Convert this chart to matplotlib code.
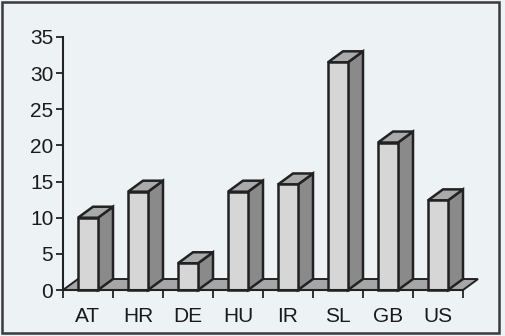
import matplotlib.pyplot as plt
from matplotlib.patches import Polygon, Rectangle

# Share per country
countries = ['AT', 'HR', 'DE', 'HU', 'IR', 'SL', 'GB', 'US']
values = [10, 13.6, 3.7, 13.6, 14.6, 31.5, 20.4, 12.4]
y_ticks = [0, 5, 10, 15, 20, 25, 30, 35]

# pseudo-3D depth offset (x in categories, y in value units)
DX, DY = 0.3, 1.52
FRONT, SIDE, TOP, FLOOR = '#d6d6d6', '#8a8a8a', '#aaaaaa', '#a6a6a6'
EDGE = '#222222'
LW = 1.8

plt.rcParams['font.family'] = ['Liberation Sans', 'DejaVu Sans']

fig = plt.figure(figsize=(5.05, 3.36), dpi=100, facecolor='#edf2f5')
ax = fig.add_axes([63 / 505, 46 / 336, 400 / 505, 253 / 336])
ax.patch.set_visible(False)
ax.set_xlim(0, len(countries))
ax.set_ylim(0, 35)

# floor
n = len(countries)
ax.add_patch(Polygon([(0, 0), (n, 0), (n + DX, DY), (DX, DY)], closed=True,
                     fc=FLOOR, ec=EDGE, lw=1.4, clip_on=False, zorder=1))

for i, v in enumerate(values):
    x0, x1 = i + 0.3, i + 0.7
    ax.add_patch(Polygon([(x1, 0), (x1 + DX, DY), (x1 + DX, v + DY), (x1, v)],
                         closed=True, fc=SIDE, ec=EDGE, lw=LW, clip_on=False, zorder=2))
    ax.add_patch(Polygon([(x0, v), (x1, v), (x1 + DX, v + DY), (x0 + DX, v + DY)],
                         closed=True, fc=TOP, ec=EDGE, lw=LW, clip_on=False, zorder=2))
    ax.add_patch(Rectangle((x0, 0), x1 - x0, v, fc=FRONT, ec=EDGE, lw=LW,
                           clip_on=False, zorder=3))

for s in ['top', 'right']:
    ax.spines[s].set_visible(False)
for s in ['left', 'bottom']:
    ax.spines[s].set_linewidth(1.5)
    ax.spines[s].set_color(EDGE)
    ax.spines[s].set_zorder(4)

ax.set_yticks(y_ticks)
ax.tick_params(axis='y', direction='out', length=5, width=1.3, color=EDGE,
               labelsize=15, labelcolor='#1a1a1a', pad=2)
ax.set_xticks(range(n + 1))
ax.set_xticklabels([])
ax.tick_params(axis='x', which='major', direction='out', length=6, width=1.3, color=EDGE)
ax.set_xticks([i + 0.5 for i in range(n)], minor=True)
ax.set_xticklabels(countries, minor=True)
ax.tick_params(axis='x', which='minor', length=0, labelsize=15,
               labelcolor='#1a1a1a', pad=12)

# frame round the whole chart
fig.add_artist(Rectangle((2 / 505, 3 / 336), 497 / 505, 331 / 336,
                         transform=fig.transFigure, fill=False, ec='#3a3a3a', lw=1.8))

fig.savefig('out.png', dpi=100, facecolor=fig.get_facecolor())
